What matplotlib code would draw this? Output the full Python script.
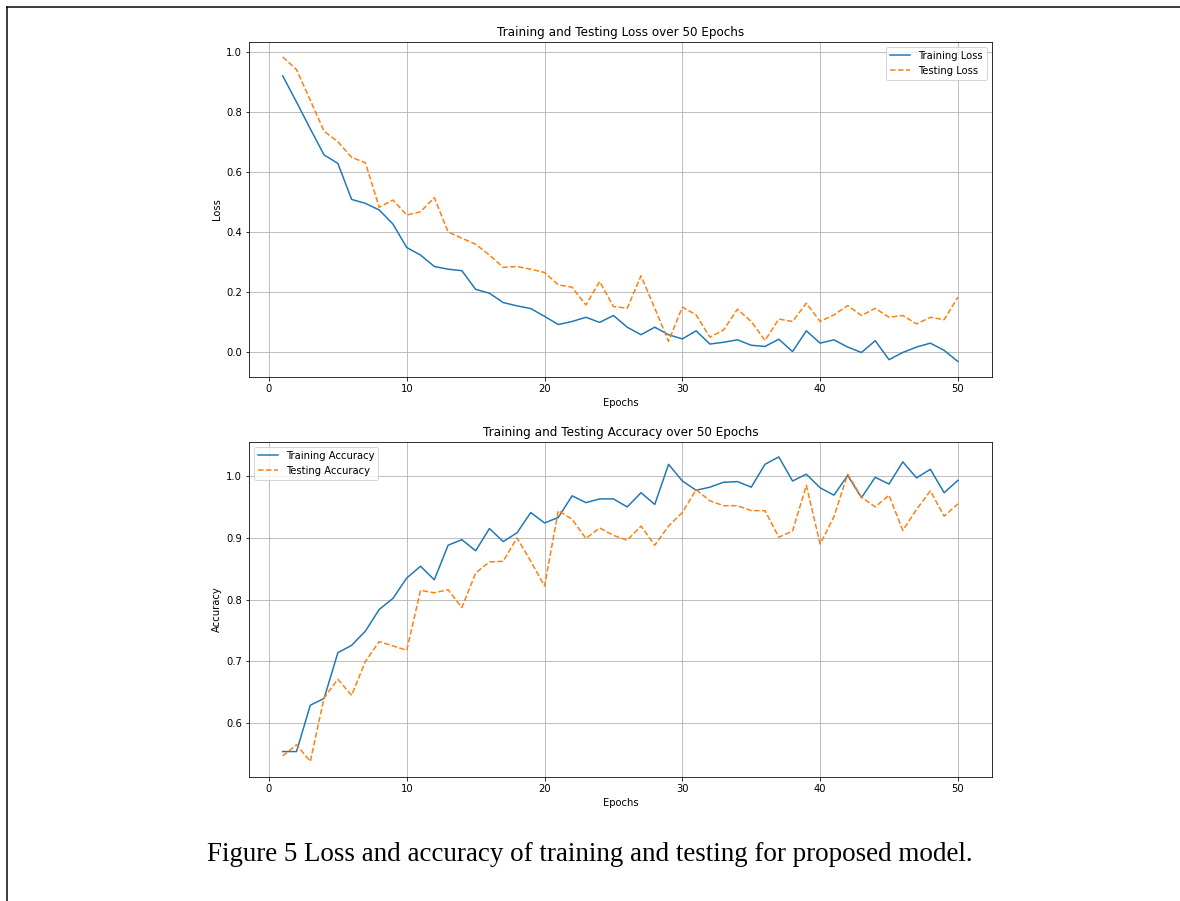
import numpy as np
import matplotlib
matplotlib.use("Agg")
import matplotlib.pyplot as plt
from matplotlib.lines import Line2D

# Datos (50 épocas)
epochs = np.arange(1, 51)

train_loss = [0.920, 0.833, 0.744, 0.657, 0.629, 0.509, 0.496, 0.474, 0.427, 0.349,
              0.324, 0.286, 0.277, 0.272, 0.210, 0.197, 0.166, 0.155, 0.146, 0.120,
              0.093, 0.103, 0.117, 0.100, 0.123, 0.084, 0.059, 0.084, 0.059, 0.045,
              0.072, 0.028, 0.034, 0.042, 0.024, 0.020, 0.044, 0.003, 0.072, 0.031,
              0.042, 0.018, 0.000, 0.039, -0.024, 0.000, 0.018, 0.031, 0.007, -0.030]

test_loss = [0.983, 0.941, 0.839, 0.736, 0.701, 0.649, 0.631, 0.483, 0.507, 0.457,
             0.468, 0.515, 0.401, 0.380, 0.360, 0.324, 0.283, 0.286, 0.277, 0.266,
             0.225, 0.217, 0.158, 0.236, 0.153, 0.147, 0.255, 0.147, 0.037, 0.151,
             0.125, 0.051, 0.075, 0.144, 0.103, 0.040, 0.111, 0.103, 0.164, 0.103,
             0.125, 0.156, 0.123, 0.147, 0.117, 0.123, 0.095, 0.117, 0.109, 0.184]

train_acc = [0.554, 0.554, 0.629, 0.640, 0.714, 0.726, 0.749, 0.784, 0.802, 0.835,
             0.854, 0.832, 0.888, 0.897, 0.879, 0.915, 0.894, 0.908, 0.941, 0.924,
             0.933, 0.968, 0.957, 0.963, 0.963, 0.950, 0.973, 0.954, 1.019, 0.992,
             0.977, 0.982, 0.990, 0.991, 0.982, 1.019, 1.031, 0.992, 1.003, 0.981,
             0.969, 1.001, 0.965, 0.998, 0.987, 1.023, 0.997, 1.011, 0.973, 0.993]

test_acc = [0.547, 0.565, 0.538, 0.641, 0.671, 0.645, 0.700, 0.732, 0.725, 0.718,
            0.815, 0.811, 0.816, 0.787, 0.843, 0.861, 0.862, 0.900, 0.862, 0.822,
            0.944, 0.930, 0.899, 0.916, 0.904, 0.896, 0.919, 0.888, 0.919, 0.941,
            0.978, 0.960, 0.952, 0.952, 0.944, 0.944, 0.901, 0.911, 0.985, 0.890,
            0.934, 1.003, 0.966, 0.950, 0.969, 0.912, 0.946, 0.976, 0.935, 0.955]

caption = "Figure 5 Loss and accuracy of training and testing for proposed model."

# A 72 dpi, 1 pt = 1 px
fig = plt.figure(figsize=(1180 / 72, 901 / 72), dpi=72)

# Gráfica de pérdida
ax1 = fig.add_axes([0.211, 0.5819, 0.6294, 0.3718])
ax1.plot(epochs, train_loss, label="Training Loss")
ax1.plot(epochs, test_loss, "--", label="Testing Loss")
ax1.set_title("Training and Testing Loss over 50 Epochs")
ax1.set_xlabel("Epochs")
ax1.set_ylabel("Loss")
ax1.legend(loc="upper right")
ax1.grid(True)

# Gráfica de precisión
ax2 = fig.add_axes([0.211, 0.1380, 0.6294, 0.3718])
ax2.plot(epochs, train_acc, label="Training Accuracy")
ax2.plot(epochs, test_acc, "--", label="Testing Accuracy")
ax2.set_title("Training and Testing Accuracy over 50 Epochs")
ax2.set_xlabel("Epochs")
ax2.set_ylabel("Accuracy")
ax2.legend(loc="upper left")
ax2.grid(True)

# Pie de figura y marco de la página
fig.text(0.5, 0.052, caption, ha="center", va="center",
         fontsize=27, family="Liberation Serif")
x0 = 7 / 1180
y0 = 1 - 7 / 901
fig.add_artist(Line2D([x0, x0], [0, y0], transform=fig.transFigure, color="black", lw=1.5))
fig.add_artist(Line2D([x0, 1], [y0, y0], transform=fig.transFigure, color="black", lw=1.5))

fig.savefig("out.png", dpi=72)
